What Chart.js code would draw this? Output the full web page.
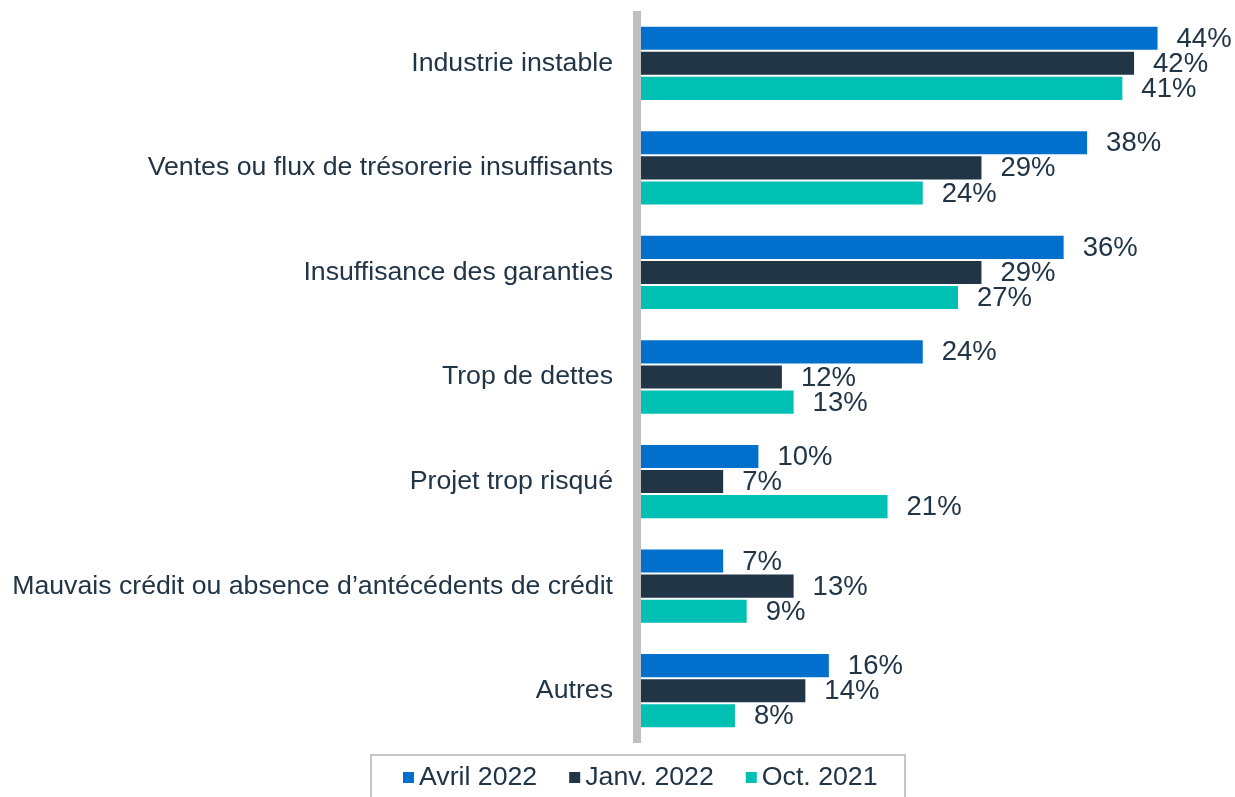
<!DOCTYPE html>
<html>
<head>
<meta charset="utf-8">
<script src="https://cdn.jsdelivr.net/npm/chart.js@4"></script>
<style>
  html, body { margin: 0; padding: 0; background: #fff; }
  #wrap { width: 1235px; height: 797px; position: relative; }
</style>
</head>
<body>
<div id="wrap"><canvas id="myChart"></canvas></div>
<script>
const categories = [
  'Industrie instable',
  'Ventes ou flux de trésorerie insuffisants',
  'Insuffisance des garanties',
  'Trop de dettes',
  'Projet trop risqué',
  'Mauvais crédit ou absence d\u2019antécédents de crédit',
  'Autres'
];
const avril2022 = [44, 38, 36, 24, 10, 7, 16];
const janv2022 = [42, 29, 29, 12, 7, 13, 14];
const oct2021 = [41, 24, 27, 13, 21, 9, 8];

const textColor = '#213547';
const fontFamily = '"Liberation Sans", Arial, sans-serif';

// grey axis line on the left of the bars
const axisLine = {
  id: 'axisLine',
  beforeDatasetsDraw(chart) {
    const a = chart.chartArea;
    const ctx = chart.ctx;
    ctx.save();
    ctx.fillStyle = '#bfbfbf';
    ctx.fillRect(a.left - 8, a.top, 8, a.bottom - a.top);
    ctx.restore();
  }
};

// value labels at the end of each bar
const barLabels = {
  id: 'barLabels',
  afterDatasetsDraw(chart) {
    const ctx = chart.ctx;
    ctx.save();
    ctx.font = '27.5px ' + fontFamily;
    ctx.fillStyle = textColor;
    ctx.textAlign = 'left';
    ctx.textBaseline = 'middle';
    chart.data.datasets.forEach((ds, i) => {
      chart.getDatasetMeta(i).data.forEach((bar, j) => {
        ctx.fillText(ds.data[j] + '%', bar.x + 19, bar.y + 1);
      });
    });
    ctx.restore();
  }
};

// framed legend below the plot
const boxLegend = {
  id: 'boxLegend',
  afterDraw(chart) {
    const ctx = chart.ctx;
    ctx.save();
    ctx.strokeStyle = '#c6c6c6';
    ctx.lineWidth = 2;
    ctx.strokeRect(371, 755, 534, 60);
    ctx.font = '26.7px ' + fontFamily;
    ctx.textBaseline = 'middle';
    let x = 403;
    const y = 778;
    chart.data.datasets.forEach(ds => {
      ctx.fillStyle = ds.backgroundColor;
      ctx.fillRect(x, y - 6, 11, 11);
      x += 16;
      ctx.fillStyle = textColor;
      ctx.fillText(ds.label, x, y);
      x += ctx.measureText(ds.label).width + 32;
    });
    ctx.restore();
  }
};

new Chart(document.getElementById('myChart'), {
  type: 'bar',
  data: {
    labels: categories,
    datasets: [
      { label: 'Avril 2022', data: avril2022, backgroundColor: '#0070cc' },
      { label: 'Janv. 2022', data: janv2022, backgroundColor: '#213547' },
      { label: 'Oct. 2021', data: oct2021, backgroundColor: '#00bfb3' }
    ]
  },
  options: {
    indexAxis: 'y',
    responsive: true,
    maintainAspectRatio: false,
    animation: false,
    layout: { padding: { top: 11, right: 7, left: 0, bottom: 54 } },
    datasets: {
      bar: { categoryPercentage: 0.72, barPercentage: 0.92 }
    },
    scales: {
      x: { display: false, min: 0, max: 50 },
      y: {
        grid: { display: false },
        border: { display: false },
        ticks: {
          color: textColor,
          padding: 20,
          font: { size: 26.7, family: fontFamily }
        },
        afterFit(scale) {
          scale.width = 641;
          scale.paddingTop = 0;
          scale.paddingBottom = 0;
        }
      }
    },
    plugins: {
      tooltip: { enabled: false },
      legend: { display: false }
    }
  },
  plugins: [axisLine, barLabels, boxLegend]
});
</script>
</body>
</html>
